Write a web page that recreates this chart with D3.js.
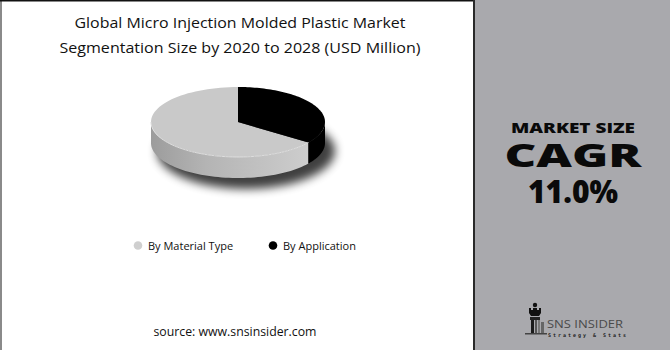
<!DOCTYPE html>
<html><head><meta charset="utf-8">
<script src="https://cdn.jsdelivr.net/npm/d3@7"></script>
<style>html,body{margin:0;padding:0;background:#fff;}svg{display:block;}</style>
</head><body>
<div id="chart"></div>
<script>
const titleLines = ["Global Micro Injection Molded Plastic Market", "Segmentation Size by 2020 to 2028 (USD Million)"];
const categories = ["By Material Type", "By Application"];
const shares = [65, 35];
const sliceColors = ["#c9c9c9", "#000000"];
const legendColors = ["#cfcfcf", "#000000"];
const panelLines = ["MARKET SIZE", "CAGR", "11.0%"];
const sourceText = "source: www.snsinsider.com";

const W = 670, H = 350;
const svg = d3.select("#chart").append("svg").attr("width", W).attr("height", H);
const defs = svg.append("defs");

// backgrounds
svg.append("rect").attr("x",0).attr("y",0).attr("width",W).attr("height",H).attr("fill","#fff");
svg.append("rect").attr("x",0).attr("y",0).attr("width",2).attr("height",H).attr("fill","#8a8a8a");
svg.append("rect").attr("x",0).attr("y",0).attr("width",475).attr("height",1.5).attr("fill","#111");
svg.append("rect").attr("x",475).attr("y",0).attr("width",W-475).attr("height",H).attr("fill","#a9a9ad");
svg.append("rect").attr("x",473).attr("y",0).attr("width",2).attr("height",H).attr("fill","#2a2a2a");

// title
const titleLen = [331, 361];
svg.append("g").selectAll("text").data(titleLines).join("text")
  .attr("x", 240).attr("y", (d,i)=>28 + i*25)
  .attr("text-anchor","middle")
  .attr("font-family","'Open Sans', sans-serif").attr("font-size",14.5)
  .attr("textLength",(d,i)=>titleLen[i]).attr("lengthAdjust","spacingAndGlyphs")
  .attr("fill","#111").text(d=>d);

// 3D pie
const cx = 238, cy = 122, rx = 87, ry = 35, depth = 21;
const pie = d3.pie().sortValues((a,b)=>a-b).value(d=>d)
  .startAngle(0).endAngle(2*Math.PI);
const arcs = pie(shares);
const px = a => cx + rx*Math.sin(a);
const py = a => cy - ry*Math.cos(a);

// shadow
const f = defs.append("filter").attr("id","blur").attr("x","-50%").attr("y","-50%").attr("width","200%").attr("height","200%");
f.append("feGaussianBlur").attr("stdDeviation",5);
svg.append("ellipse").attr("cx",cx+8).attr("cy",cy+depth+8).attr("rx",rx+2).attr("ry",ry+3)
  .attr("fill","#000").attr("opacity",0.75).attr("filter","url(#blur)");

const grad = defs.append("linearGradient").attr("id","sideGrad").attr("x1","0").attr("x2","1").attr("y1","0").attr("y2","0");
grad.append("stop").attr("offset","0%").attr("stop-color","#9c9c9c");
grad.append("stop").attr("offset","35%").attr("stop-color","#b4b4b4");
grad.append("stop").attr("offset","100%").attr("stop-color","#cdcdcd");

function sidePath(a0, a1) {
  const s = Math.max(a0, Math.PI/2), e = Math.min(a1, 3*Math.PI/2);
  if (e <= s) return null;
  const n = 60, pts = [];
  for (let k=0;k<=n;k++){ const a = s + (e-s)*k/n; pts.push([px(a), py(a)]); }
  for (let k=n;k>=0;k--){ const a = s + (e-s)*k/n; pts.push([px(a), py(a)+depth]); }
  return d3.line()(pts) + "Z";
}
function topPath(a0, a1) {
  const n = 80, pts = [[cx,cy]];
  for (let k=0;k<=n;k++){ const a = a0 + (a1-a0)*k/n; pts.push([px(a), py(a)]); }
  return d3.line()(pts) + "Z";
}
const pieG = svg.append("g");
pieG.selectAll("path.side").data(arcs).join("path").attr("class","side")
  .attr("d", d=>sidePath(d.startAngle, d.endAngle))
  .attr("fill", (d,i)=> i===0 ? "url(#sideGrad)" : "#000");
pieG.selectAll("path.top").data(arcs).join("path").attr("class","top")
  .attr("d", d=>topPath(d.startAngle, d.endAngle))
  .attr("fill", (d,i)=>sliceColors[i]);
// front rim highlight on the light slice
const a0 = Math.max(arcs[0].startAngle, Math.PI/2), a1 = Math.min(arcs[0].endAngle, 3*Math.PI/2);
const rimPts = d3.range(0,61).map(k=>{const a = a0 + (a1-a0)*k/60; return [px(a),py(a)];});
pieG.append("path").attr("d", d3.line()(rimPts)).attr("fill","none").attr("stroke","#dedede").attr("stroke-width",1);

// legend
const lx = [138, 273];
const lg = svg.append("g").selectAll("g").data(categories).join("g")
  .attr("transform",(d,i)=>`translate(${lx[i]},245.5)`);
lg.append("circle").attr("r",4.3).attr("fill",(d,i)=>legendColors[i]);
lg.append("text").attr("x",10).attr("y",4)
  .attr("font-family","'Open Sans', sans-serif").attr("font-size",11)
  .attr("fill","#111").text(d=>d);

// source
svg.append("text").attr("x",235).attr("y",336).attr("text-anchor","middle")
  .attr("font-family","'Open Sans', sans-serif").attr("font-size",12.5)
  .attr("textLength",163).attr("lengthAdjust","spacingAndGlyphs")
  .attr("fill","#111").text(sourceText);

// right panel text
const pSpecs = [{y:133, size:14.5, len:124},{y:167, size:31, len:137},{y:203, size:32, len:90}];
svg.append("g").selectAll("text").data(panelLines).join("text")
  .attr("x",573).attr("y",(d,i)=>pSpecs[i].y).attr("text-anchor","middle")
  .attr("font-family","'Open Sans', sans-serif").attr("font-weight",800)
  .attr("font-size",(d,i)=>pSpecs[i].size)
  .attr("textLength",(d,i)=>pSpecs[i].len).attr("lengthAdjust","spacingAndGlyphs")
  .attr("fill","#0a0a0a").text(d=>d);

// logo
const logo = svg.append("g");
logo.append("circle").attr("cx",535).attr("cy",305).attr("r",2.2).attr("fill","#111");
logo.append("path").attr("d","M529,308 L531,308 L531,310 L533,310 L533,308 L537,308 L537,310 L539,310 L539,308 L541,308 L541,313 L539,316 L531,316 L529,313 Z").attr("fill","#111");
logo.append("rect").attr("x",530).attr("y",317).attr("width",10).attr("height",3).attr("fill","#222");
logo.append("rect").attr("x",531).attr("y",320).attr("width",3).attr("height",13).attr("fill","#1a1a1a");
logo.append("rect").attr("x",535).attr("y",320).attr("width",2).attr("height",13).attr("fill","#555");
logo.append("rect").attr("x",538).attr("y",320).attr("width",2).attr("height",13).attr("fill","#777");
logo.append("rect").attr("x",541).attr("y",322).attr("width",3).attr("height",11).attr("fill","#666");
logo.append("rect").attr("x",525).attr("y",333).attr("width",22).attr("height",1.5).attr("fill","#444");
logo.append("text").attr("x",547).attr("y",328).attr("font-family","'Open Sans', sans-serif")
  .attr("font-size",11.5).attr("fill","#4a4a4a").attr("textLength",76).attr("lengthAdjust","spacingAndGlyphs").text("SNS INSIDER");
logo.append("text").attr("x",548).attr("y",336.5).attr("font-family","'DejaVu Sans Mono', monospace").attr("font-weight","bold")
  .attr("font-size",5).attr("fill","#222").attr("textLength",78).attr("lengthAdjust","spacing").text("Strategy & Stats");
</script>
</body></html>
